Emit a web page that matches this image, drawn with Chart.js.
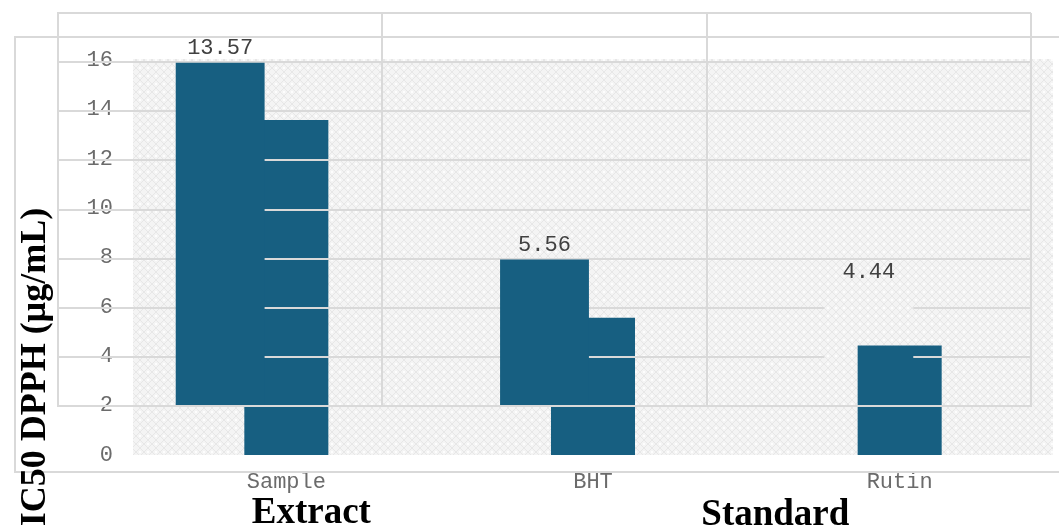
<!DOCTYPE html>
<html>
<head>
<meta charset="utf-8">
<title>IC50 DPPH</title>
<script src="https://cdn.jsdelivr.net/npm/chart.js@4.4.1/dist/chart.umd.min.js"></script>
<style>
  html, body { margin: 0; padding: 0; background: #ffffff; }
  #wrap { position: relative; width: 1059px; height: 529px; overflow: hidden; }
  #wrap canvas { position: absolute; left: 0; top: 0; }
</style>
</head>
<body>
<div id="wrap">
  <canvas id="baseChart" width="1059" height="529"></canvas>
  <canvas id="frameChart" width="1059" height="529"></canvas>
</div>
<script>
// ---- data ----
const categories = ['Sample', 'BHT', 'Rutin'];
const ic50Values = [13.57, 5.56, 4.44];
const yTicks = [0, 2, 4, 6, 8, 10, 12, 14, 16];
const groupLabels = ['Extract', 'Standard'];
const yTitle = 'IC50 DPPH (\u00b5g/mL)';

// ---- styles ----
const BAR_COLOR = '#175f81';
const GRID_COLOR = '#d9d9d9';
const MONO = '"Liberation Mono", "Courier New", monospace';
const SERIF = '"Liberation Serif", "Times New Roman", serif';
const FRAME_SHIFT = 0.4;   // the framed layer sits slightly lower on its own axis

Chart.defaults.font.family = MONO;

function texturePattern(ctx) {
  const c = document.createElement('canvas');
  c.width = 8; c.height = 8;
  const g = c.getContext('2d');
  g.fillStyle = '#f4f4f4';
  g.fillRect(0, 0, 8, 8);
  g.fillStyle = '#e7e7e7';
  [[0,3],[1,2],[2,1],[3,0],[4,0],[5,1],[6,2],[7,3],
   [0,4],[7,4],[1,5],[6,5],[2,6],[5,6],[3,7],[4,7]].forEach(([x, y]) => g.fillRect(x, y, 1, 1));
  g.fillStyle = '#fdfdfd';
  g.fillRect(3, 3, 2, 2);
  return ctx.createPattern(c, 'repeat');
}

// textured plot background
const texturePlugin = {
  id: 'texture',
  beforeDatasetsDraw(chart) {
    const { ctx, chartArea: a } = chart;
    ctx.save();
    ctx.fillStyle = texturePattern(ctx);
    ctx.fillRect(a.left, a.top - 1, a.right - a.left, a.bottom - a.top + 1);
    ctx.restore();
  }
};

// outer border, axis title and group captions
const captionPlugin = {
  id: 'captions',
  afterDraw(chart) {
    const { ctx } = chart;
    const xs = chart.scales.x;
    ctx.save();
    ctx.strokeStyle = GRID_COLOR;
    ctx.lineWidth = 2;
    ctx.beginPath();
    ctx.moveTo(1070, 37); ctx.lineTo(15, 37); ctx.lineTo(15, 472); ctx.lineTo(1070, 472);
    ctx.stroke();

    ctx.fillStyle = '#000000';
    ctx.font = 'bold 36px ' + SERIF;
    ctx.textAlign = 'center';
    ctx.textBaseline = 'alphabetic';
    ctx.save();
    ctx.translate(45, 367);
    ctx.rotate(-Math.PI / 2);
    ctx.fillText(yTitle, 0, 0);
    ctx.restore();

    ctx.font = 'bold 37px ' + SERIF;
    ctx.fillText(groupLabels[0], xs.getPixelForValue(0) + 25, 523);
    ctx.fillText(groupLabels[1], (xs.getPixelForValue(1) + xs.getPixelForValue(2)) / 2 + 29, 525);
    ctx.restore();
  }
};

new Chart(document.getElementById('baseChart'), {
  type: 'bar',
  data: {
    labels: categories,
    datasets: [{
      data: ic50Values,
      backgroundColor: BAR_COLOR,
      barPercentage: 0.274,
      categoryPercentage: 1
    }]
  },
  options: {
    responsive: false,
    animation: false,
    events: [],
    layout: { padding: { top: 60, right: 6, left: 0, bottom: 0 } },
    plugins: { legend: { display: false }, tooltip: { enabled: false } },
    scales: {
      x: {
        grid: { display: false, drawTicks: false },
        border: { display: false },
        ticks: { color: '#6b6b6b', font: { size: 22 }, padding: 14 },
        afterFit(s) { s.height = 74; }
      },
      y: {
        min: 0, max: 16,
        grid: { display: false, drawTicks: false },
        border: { display: false },
        ticks: { color: '#6b6b6b', font: { size: 22 }, padding: 20 },
        afterBuildTicks(s) { s.ticks = yTicks.map(v => ({ value: v })); },
        afterFit(s) { s.width = 133; }
      }
    }
  },
  plugins: [texturePlugin, captionPlugin]
});

// clears the grid behind a bar that is drawn without fill
const maskPlugin = {
  id: 'gridMask',
  afterDatasetsDraw(chart, args, opts) {
    const el = chart.getDatasetMeta(0).data[opts.index];
    if (!el) return;
    const { x, y, width, base } = el.getProps(['x', 'y', 'width', 'base'], true);
    const { ctx } = chart;
    ctx.save();
    ctx.globalCompositeOperation = 'destination-out';
    ctx.fillRect(x - width / 2, y, width, base - y - 1.5);
    ctx.restore();
  }
};

// value labels above the framed bars
const valueLabelPlugin = {
  id: 'valueLabels',
  afterDatasetsDraw(chart) {
    const { ctx } = chart;
    const meta = chart.getDatasetMeta(0);
    ctx.save();
    ctx.font = '22px ' + MONO;
    ctx.fillStyle = '#404040';
    ctx.textAlign = 'center';
    ctx.textBaseline = 'alphabetic';
    meta.data.forEach((el, i) => {
      const { x, y } = el.getProps(['x', 'y'], true);
      ctx.fillText(ic50Values[i].toFixed(2), x, y - 9);
    });
    ctx.restore();
  }
};

new Chart(document.getElementById('frameChart'), {
  type: 'bar',
  data: {
    labels: categories,
    datasets: [{
      data: ic50Values,
      base: -FRAME_SHIFT,
      backgroundColor: [BAR_COLOR, BAR_COLOR, 'rgba(0,0,0,0)'],
      barPercentage: 0.274,
      categoryPercentage: 1
    }]
  },
  options: {
    responsive: false,
    animation: false,
    events: [],
    layout: { padding: { top: 13, right: 28, left: 0, bottom: 0 } },
    plugins: {
      legend: { display: false },
      tooltip: { enabled: false },
      gridMask: { index: 2 }
    },
    scales: {
      x: {
        grid: { offset: true, color: GRID_COLOR, lineWidth: 2, drawTicks: false },
        border: { color: GRID_COLOR, width: 2 },
        ticks: { display: false },
        afterFit(s) { s.height = 123; }
      },
      y: {
        min: -FRAME_SHIFT, max: 16 - FRAME_SHIFT,
        grid: { color: GRID_COLOR, lineWidth: 2, drawTicks: false },
        border: { color: GRID_COLOR, width: 2 },
        ticks: { display: false },
        afterBuildTicks(s) { s.ticks = yTicks.map(v => ({ value: v - FRAME_SHIFT })); },
        afterFit(s) { s.width = 58; }
      }
    }
  },
  plugins: [maskPlugin, valueLabelPlugin]
});
</script>
</body>
</html>
